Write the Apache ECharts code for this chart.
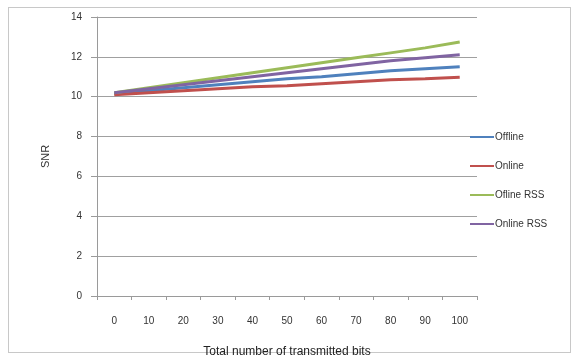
<!DOCTYPE html>
<html>
<head>
<meta charset="utf-8">
<script src="https://cdn.jsdelivr.net/npm/echarts@6/dist/echarts.min.js"></script>
<style>
  html, body { margin: 0; padding: 0; background: #fff; }
  #wrap { position: absolute; left: 8px; top: 7px; width: 563px; height: 346px; border: 1px solid #c8c8c8; box-sizing: border-box; }
  #chart { position: absolute; left: 0; top: 0; width: 578px; height: 356px; }
</style>
</head>
<body>
<div id="wrap"></div>
<div id="chart"></div>
<script>
// Number of transmitted bits (x categories)
const bits = ['0', '10', '20', '30', '40', '50', '60', '70', '80', '90', '100'];
const yTicks = [0, 2, 4, 6, 8, 10, 12, 14];

// SNR per scheme
const offline    = [10.15, 10.3, 10.45, 10.6, 10.75, 10.9, 11.0, 11.15, 11.3, 11.4, 11.5];
const online     = [10.1, 10.2, 10.3, 10.4, 10.5, 10.55, 10.65, 10.75, 10.85, 10.9, 10.98];
const oflineRSS  = [10.2, 10.45, 10.7, 10.95, 11.2, 11.45, 11.7, 11.95, 12.2, 12.45, 12.75];
const onlineRSS  = [10.2, 10.4, 10.6, 10.8, 11.0, 11.2, 11.4, 11.6, 11.8, 11.95, 12.1];

const seriesNames = ['Offline', 'Online', 'Ofline RSS', 'Online RSS'];
const seriesData = [offline, online, oflineRSS, onlineRSS];
const colors = ['#4F81BD', '#C0504D', '#9BBB59', '#8064A2'];

const font = 'Liberation Sans, Arial, sans-serif';
const chart = echarts.init(document.getElementById('chart'));
chart.setOption({
  animation: false,
  color: colors,
  grid: { left: 97, top: 17, width: 380, height: 279, containLabel: false, outerBoundsMode: 'none' },
  xAxis: {
    type: 'category',
    data: bits,
    boundaryGap: true,
    name: 'Total number of transmitted bits',
    nameLocation: 'middle',
    nameGap: 50,
    nameTextStyle: { fontFamily: font, fontSize: 12, color: '#222' },
    axisLine: { lineStyle: { color: '#9a9a9a', width: 1 } },
    axisTick: { show: true, length: 4, lineStyle: { color: '#9a9a9a' } },
    axisLabel: { fontFamily: font, fontSize: 10, color: '#333', margin: 20 },
    splitLine: { show: false }
  },
  yAxis: {
    type: 'value',
    min: 0, max: 14, interval: 2,
    name: 'SNR',
    nameLocation: 'middle',
    nameGap: 46,
    nameRotate: 90,
    nameTextStyle: { fontFamily: font, fontSize: 11, color: '#333' },
    axisLine: { show: true, lineStyle: { color: '#9a9a9a', width: 1 } },
    axisTick: { show: true, length: 6, lineStyle: { color: '#9a9a9a' } },
    axisLabel: {
      fontFamily: font, fontSize: 10, color: '#333', margin: 15,
      formatter: v => yTicks.includes(v) ? String(v) : ''
    },
    splitLine: { show: true, lineStyle: { color: '#a0a0a0', width: 1 } }
  },
  legend: {
    orient: 'vertical',
    left: 465,
    top: 127,
    itemGap: 19,
    itemWidth: 24,
    itemHeight: 2,
    icon: 'rect',
    textStyle: { fontFamily: font, fontSize: 10, color: '#333', padding: [0, 0, 0, -4] },
    data: seriesNames
  },
  series: seriesNames.map((n, i) => ({
    name: n,
    type: 'line',
    data: seriesData[i],
    showSymbol: false,
    symbol: 'none',
    lineStyle: { width: 3, color: colors[i] },
    itemStyle: { color: colors[i] }
  }))
});
</script>
</body>
</html>
